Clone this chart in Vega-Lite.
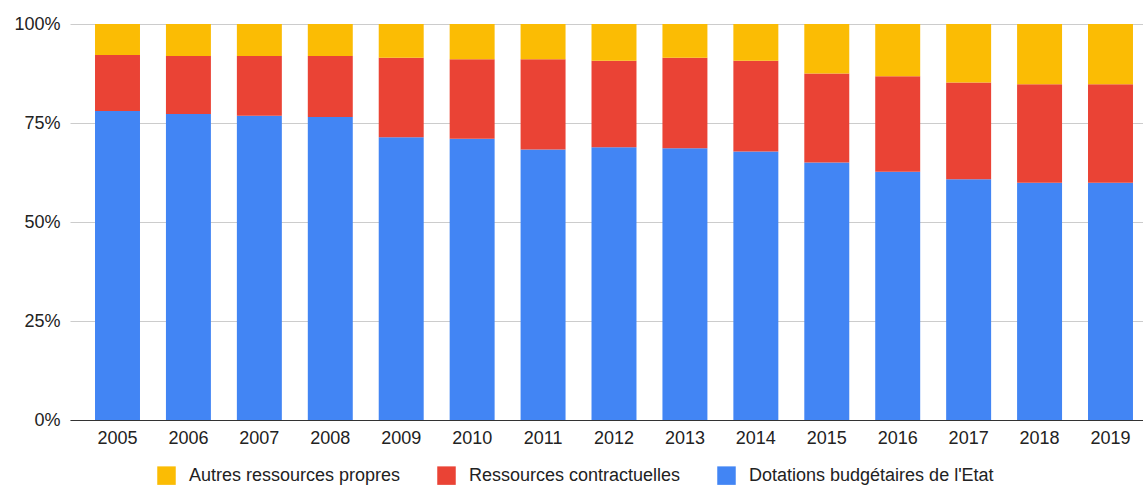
{
  "$schema": "https://vega.github.io/schema/vega-lite/v6.json",
  "width": 1073,
  "height": 396,
  "autosize": "none",
  "padding": {"left": 70, "top": 24, "right": 0, "bottom": 66},
  "background": "white",
  "config": {
    "view": {"stroke": null},
    "font": "Liberation Sans",
    "axis": {"labelFont": "Liberation Sans", "labelFontSize": 18, "labelColor": "#222222"},
    "legend": {"labelFont": "Liberation Sans", "labelFontSize": 18, "labelColor": "#222222", "labelLimit": 0}
  },
  "data": {
    "values": [
      {"year": "2005", "serie": "Dotations budgétaires de l'Etat", "o": 1, "v": 78.0},
      {"year": "2005", "serie": "Ressources contractuelles", "o": 2, "v": 14.2},
      {"year": "2005", "serie": "Autres ressources propres", "o": 3, "v": 7.8},
      {"year": "2006", "serie": "Dotations budgétaires de l'Etat", "o": 1, "v": 77.3},
      {"year": "2006", "serie": "Ressources contractuelles", "o": 2, "v": 14.6},
      {"year": "2006", "serie": "Autres ressources propres", "o": 3, "v": 8.1},
      {"year": "2007", "serie": "Dotations budgétaires de l'Etat", "o": 1, "v": 76.8},
      {"year": "2007", "serie": "Ressources contractuelles", "o": 2, "v": 15.1},
      {"year": "2007", "serie": "Autres ressources propres", "o": 3, "v": 8.1},
      {"year": "2008", "serie": "Dotations budgétaires de l'Etat", "o": 1, "v": 76.5},
      {"year": "2008", "serie": "Ressources contractuelles", "o": 2, "v": 15.4},
      {"year": "2008", "serie": "Autres ressources propres", "o": 3, "v": 8.1},
      {"year": "2009", "serie": "Dotations budgétaires de l'Etat", "o": 1, "v": 71.4},
      {"year": "2009", "serie": "Ressources contractuelles", "o": 2, "v": 20.1},
      {"year": "2009", "serie": "Autres ressources propres", "o": 3, "v": 8.5},
      {"year": "2010", "serie": "Dotations budgétaires de l'Etat", "o": 1, "v": 71.0},
      {"year": "2010", "serie": "Ressources contractuelles", "o": 2, "v": 20.1},
      {"year": "2010", "serie": "Autres ressources propres", "o": 3, "v": 8.9},
      {"year": "2011", "serie": "Dotations budgétaires de l'Etat", "o": 1, "v": 68.3},
      {"year": "2011", "serie": "Ressources contractuelles", "o": 2, "v": 22.8},
      {"year": "2011", "serie": "Autres ressources propres", "o": 3, "v": 8.9},
      {"year": "2012", "serie": "Dotations budgétaires de l'Etat", "o": 1, "v": 68.9},
      {"year": "2012", "serie": "Ressources contractuelles", "o": 2, "v": 21.8},
      {"year": "2012", "serie": "Autres ressources propres", "o": 3, "v": 9.3},
      {"year": "2013", "serie": "Dotations budgétaires de l'Etat", "o": 1, "v": 68.6},
      {"year": "2013", "serie": "Ressources contractuelles", "o": 2, "v": 22.9},
      {"year": "2013", "serie": "Autres ressources propres", "o": 3, "v": 8.5},
      {"year": "2014", "serie": "Dotations budgétaires de l'Etat", "o": 1, "v": 67.8},
      {"year": "2014", "serie": "Ressources contractuelles", "o": 2, "v": 22.9},
      {"year": "2014", "serie": "Autres ressources propres", "o": 3, "v": 9.3},
      {"year": "2015", "serie": "Dotations budgétaires de l'Etat", "o": 1, "v": 65.0},
      {"year": "2015", "serie": "Ressources contractuelles", "o": 2, "v": 22.5},
      {"year": "2015", "serie": "Autres ressources propres", "o": 3, "v": 12.5},
      {"year": "2016", "serie": "Dotations budgétaires de l'Etat", "o": 1, "v": 62.7},
      {"year": "2016", "serie": "Ressources contractuelles", "o": 2, "v": 24.1},
      {"year": "2016", "serie": "Autres ressources propres", "o": 3, "v": 13.2},
      {"year": "2017", "serie": "Dotations budgétaires de l'Etat", "o": 1, "v": 60.8},
      {"year": "2017", "serie": "Ressources contractuelles", "o": 2, "v": 24.4},
      {"year": "2017", "serie": "Autres ressources propres", "o": 3, "v": 14.8},
      {"year": "2018", "serie": "Dotations budgétaires de l'Etat", "o": 1, "v": 59.9},
      {"year": "2018", "serie": "Ressources contractuelles", "o": 2, "v": 24.9},
      {"year": "2018", "serie": "Autres ressources propres", "o": 3, "v": 15.2},
      {"year": "2019", "serie": "Dotations budgétaires de l'Etat", "o": 1, "v": 59.9},
      {"year": "2019", "serie": "Ressources contractuelles", "o": 2, "v": 24.9},
      {"year": "2019", "serie": "Autres ressources propres", "o": 3, "v": 15.2}
    ]
  },
  "mark": {"type": "bar"},
  "encoding": {
    "x": {
      "field": "year", "type": "nominal", "title": null,
      "scale": {"paddingInner": 0.366, "paddingOuter": 0.247, "align": 0.714},
      "axis": {"labelAngle": 0, "domain": true, "domainColor": "#333333", "domainWidth": 1, "ticks": false, "labelPadding": 9}
    },
    "y": {
      "field": "v", "type": "quantitative", "stack": "normalize", "title": null,
      "scale": {"domain": [0, 1]},
      "axis": {"values": [0, 0.25, 0.5, 0.75, 1], "format": ".0%", "domain": false, "ticks": false, "labelPadding": 10, "gridColor": "#cccccc", "gridWidth": 1}
    },
    "color": {
      "field": "serie", "type": "nominal", "title": null,
      "scale": {
        "domain": ["Autres ressources propres", "Ressources contractuelles", "Dotations budgétaires de l'Etat"],
        "range": ["#FBBC04", "#EA4335", "#4285F4"]
      },
      "legend": {
        "orient": "none", "direction": "horizontal", "legendX": 87, "legendY": 442,
        "symbolType": "square", "symbolSize": 342, "symbolStrokeWidth": 0, "symbolOpacity": 1,
        "labelOffset": 13, "columnPadding": 36, "labelLimit": 0
      }
    },
    "order": {"field": "o", "type": "quantitative"}
  }
}
